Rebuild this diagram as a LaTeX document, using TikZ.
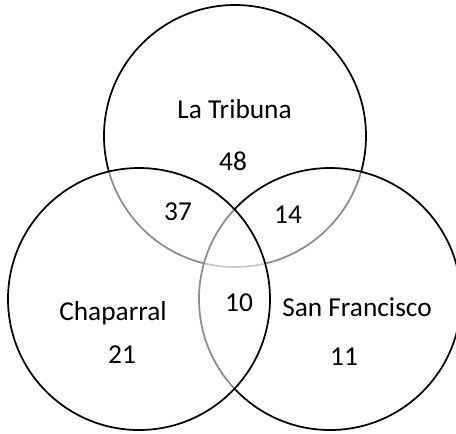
\documentclass[tikz,border=0pt]{standalone}
\usepackage{fontspec}
\setmainfont{Carlito}
\usepackage{tikz}

\begin{document}
\begin{tikzpicture}[x=0.75pt, y=-0.75pt,
        set/.style={draw=black, line width=1.3pt, fill=white, fill opacity=0.55},
        lbl/.style={anchor=base, font=\fontsize{20.5}{24}\selectfont, inner sep=0pt}]
        \useasboundingbox (0,0) rectangle (456,433);

        \draw[set] (235,136) circle (131);
        \draw[set] (330,299) circle (131);
        \draw[set] (139,299) circle (131);

        \node[lbl] (tribuna) at (234.5,118) {La Tribuna};
        \node[lbl] (n48) at (233,170) {48};
        \node[lbl] (n37) at (178,220) {37};
        \node[lbl] (n14) at (288,223) {14};
        \node[lbl] (n10) at (239,311) {10};
        \node[lbl] (chaparral) at (113,320) {Chaparral};
        \node[lbl] (n21) at (122,363) {21};
        \node[lbl] (sanfrancisco) at (357,316) {San Francisco};
        \node[lbl] (n11) at (344,365) {11};
\end{tikzpicture}
\end{document}
